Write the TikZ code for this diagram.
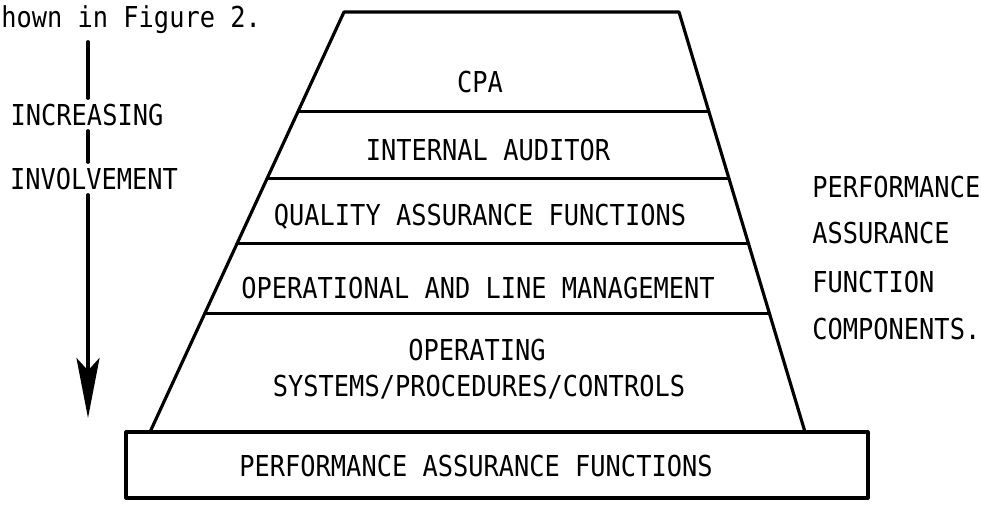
\documentclass[tikz,border=0pt]{standalone}
\usepackage{fontspec}
\newfontfamily\scanfont[FakeStretch=0.88]{DejaVu Sans Mono}
\usetikzlibrary{arrows.meta,calc}
\tikzset{>={Stealth[length=12mm,width=4.6mm,inset=2.5mm]}}
\tikzset{
  Label/.style={font=\scanfont\fontsize{16.4}{20}\selectfont, inner sep=0pt, anchor=base},
  Frame/.style={line width=1.8pt, line join=round},
  Shaft/.style={line width=2.2pt, shorten <=3pt, shorten >=3pt}
}

\begin{document}
\begin{tikzpicture}[x=0.02cm, y=-0.02cm, line cap=round]
  \useasboundingbox (0,0) rectangle (982,508);
  % pyramid
  \coordinate (TL) at (344,12);
  \coordinate (TR) at (679,12);
  \coordinate (BL) at (150,432);
  \coordinate (BR) at (805,432);
  \draw[Frame] (BL) -- (TL) -- (TR) -- (BR);
  \foreach \t in {0.236,0.396,0.551,0.718}
    \draw[Frame] ($(TL)!\t!(BL)$) -- ($(TR)!\t!(BR)$);
  \draw[Frame] (126,432) rectangle (868,498);

  % band labels
  \node[Label] (cpa)   at (480,92)  {CPA};
  \node[Label] (audit) at (488,160) {INTERNAL AUDITOR};
  \node[Label] (qa)    at (480,225) {QUALITY ASSURANCE FUNCTIONS};
  \node[Label] (mgmt)  at (478,298) {OPERATIONAL AND LINE MANAGEMENT};
  \node[Label] (opsa)  at (477,360) {OPERATING};
  \node[Label] (opsb)  at (479,396) {SYSTEMS/PROCEDURES/CONTROLS};
  \node[Label] (base)  at (476,476) {PERFORMANCE ASSURANCE FUNCTIONS};

  % left side
  \node[Label, anchor=base west] (fig) at (1,27) {hown in Figure 2.};
  \node[Label] (inc) at (87,125) {INCREASING};
  \node[Label] (inv) at (94,189) {INVOLVEMENT};
  \coordinate (ArrTop) at (88,42);
  \coordinate (ArrTip) at (88,418);
  \draw[Shaft, shorten <=0pt] (ArrTop) -- (ArrTop |- inc.north);
  \draw[Shaft] (ArrTop |- inc.south) -- (ArrTop |- inv.north);
  \draw[Shaft, shorten >=0pt, ->] (ArrTop |- inv.south) -- (ArrTip);

  % right side
  \node[Label, anchor=base west] (pa1) at (812,197) {PERFORMANCE};
  \node[Label, anchor=base west] (pa2) at (812,243) {ASSURANCE};
  \node[Label, anchor=base west] (pa3) at (812,292) {FUNCTION};
  \node[Label, anchor=base west] (pa4) at (812,339) {COMPONENTS.};
\end{tikzpicture}
\end{document}
